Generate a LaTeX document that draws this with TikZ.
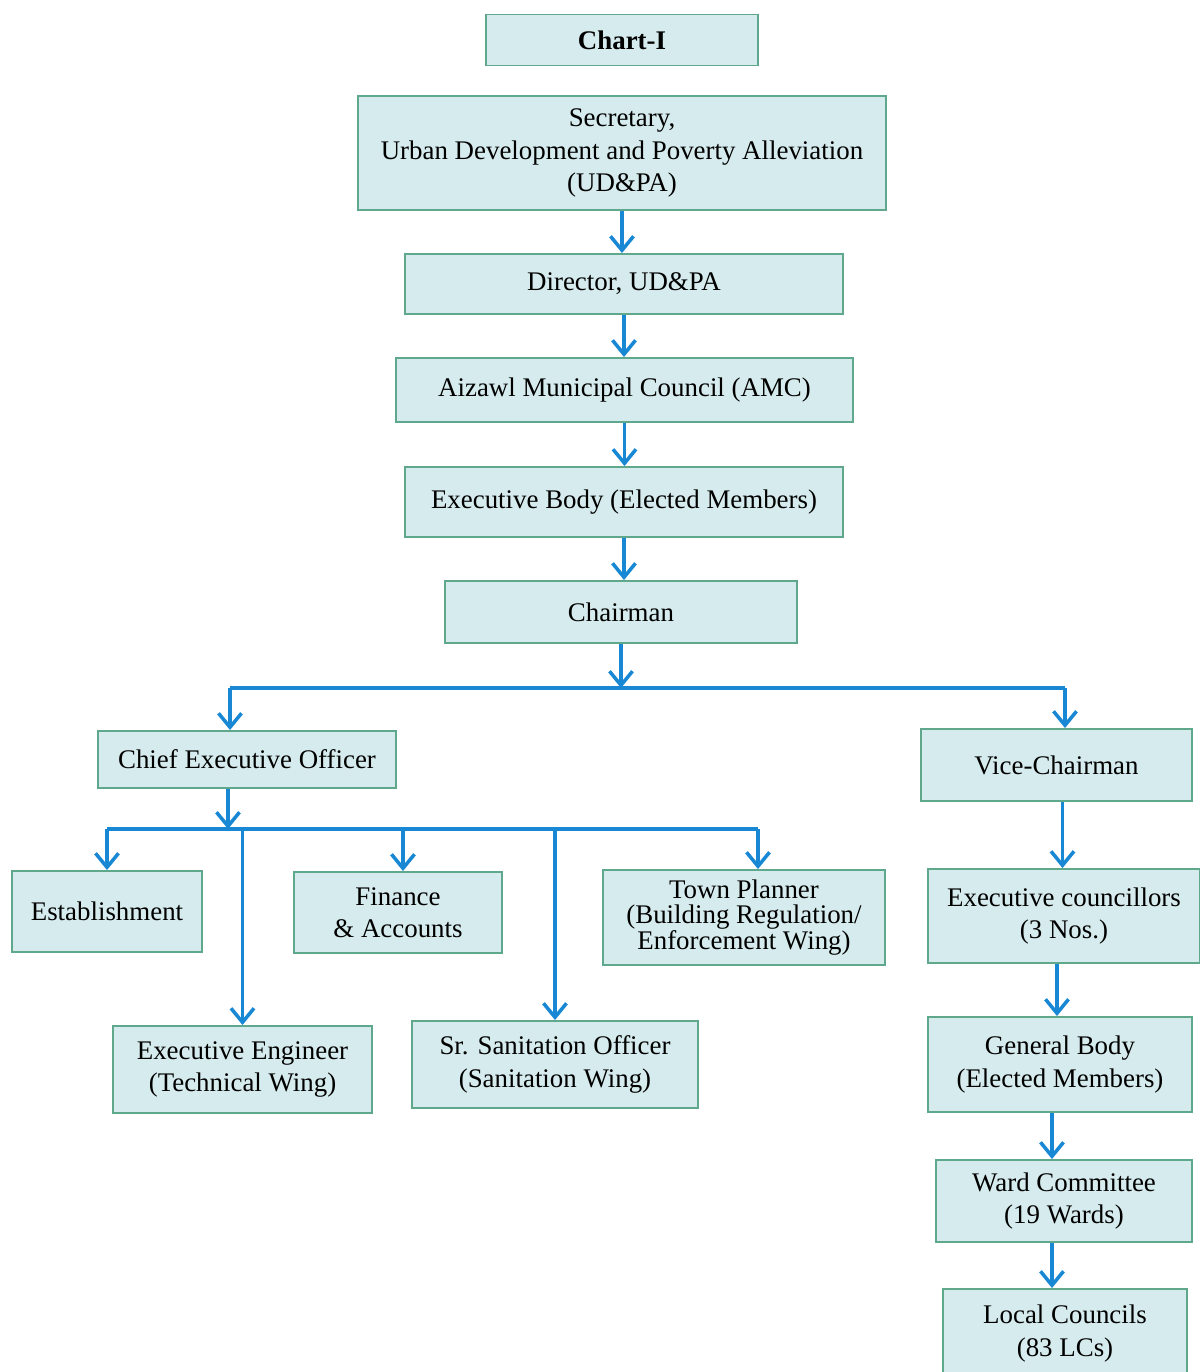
\documentclass[tikz,border=0pt]{standalone}
\usepackage{fontspec}
\setmainfont{Liberation Serif}
\usetikzlibrary{positioning,arrows.meta}
\definecolor{boxfill}{RGB}{214,235,237}
\definecolor{boxline}{RGB}{96,168,140}
\definecolor{flowblue}{RGB}{24,136,212}
\tikzset{
  orgbox/.style={draw=boxline, fill=boxfill, line width=1.1pt, align=center,
    inner sep=2pt, font=\fontsize{15.3}{18.5}\selectfont},
  flow/.style={draw=flowblue, line width=2pt,
    -{Straight Barb[length=0.28cm,width=0.46cm,line width=2pt]}},
  bus/.style={draw=flowblue, line width=2pt},
}
\begin{document}
\begin{tikzpicture}
\useasboundingbox (0,0) rectangle (24,-27.44);
% top chain
\node[orgbox, minimum width=5.44cm, minimum height=1.02cm] (chart) at (12.44,-0.80) {\textbf{Chart-I}};
\node[orgbox, minimum width=10.56cm, minimum height=2.28cm] (secy) at (12.44,-3.06)
  {Secretary,\\Urban Development and Poverty Alleviation\\(UD\&PA)};
\node[orgbox, minimum width=8.76cm, minimum height=1.20cm] (dir) at (12.48,-5.68) {Director, UD\&PA};
\node[orgbox, minimum width=9.14cm, minimum height=1.28cm] (amc) at (12.49,-7.80) {Aizawl Municipal Council (AMC)};
\node[orgbox, minimum width=8.76cm, minimum height=1.40cm] (exec) at (12.48,-10.04) {Executive Body (Elected Members)};
\node[orgbox, minimum width=7.04cm, minimum height=1.24cm] (chair) at (12.42,-12.24) {Chairman};
% second level
\node[orgbox, minimum width=5.96cm, minimum height=1.14cm] (ceo) at (4.94,-15.19) {Chief Executive Officer};
\node[orgbox, minimum width=5.42cm, minimum height=1.44cm] (vc) at (21.13,-15.30) {Vice-Chairman};
% CEO wings
\node[orgbox, minimum width=3.80cm, minimum height=1.62cm] (est) at (2.14,-18.23) {Establishment};
\node[orgbox, minimum width=4.16cm, minimum height=1.62cm] (fin) at (7.96,-18.25) {Finance\\\& Accounts};
\node[orgbox, minimum width=5.64cm, minimum height=1.90cm, font=\fontsize{15.3}{14.5}\selectfont] (town) at (14.88,-18.35)
  {Town Planner\\(Building Regulation/\\Enforcement Wing)};
\node[orgbox, minimum width=5.18cm, minimum height=1.74cm] (ee) at (4.85,-21.39) {Executive Engineer\\(Technical Wing)};
\node[orgbox, minimum width=5.72cm, minimum height=1.74cm] (san) at (11.10,-21.29) {Sr. Sanitation Officer\\(Sanitation Wing)};
% vice-chairman chain
\node[orgbox, minimum width=5.44cm, minimum height=1.88cm] (ec) at (21.28,-18.32) {Executive councillors\\(3 Nos.)};
\node[orgbox, minimum width=5.28cm, minimum height=1.90cm] (gb) at (21.20,-21.29) {General Body\\(Elected Members)};
\node[orgbox, minimum width=5.12cm, minimum height=1.64cm] (wc) at (21.28,-24.02) {Ward Committee\\(19 Wards)};
\node[orgbox, minimum width=4.88cm, minimum height=1.78cm] (lc) at (21.30,-26.67) {Local Councils\\(83 LCs)};
% junctions
\coordinate (j1) at (12.42,-13.76);
\coordinate (b1) at (4.60,-13.76);
\coordinate (b2) at (21.30,-13.76);
\coordinate (j2) at (4.56,-16.58);
\coordinate (k1) at (2.14,-16.58);
\coordinate (k2) at (15.16,-16.58);
% connectors
\draw[flow] (secy.south) -- (secy.south |- dir.north);
\draw[flow] (dir.south) -- (dir.south |- amc.north);
\draw[flow] (amc.south) -- (amc.south |- exec.north);
\draw[flow] (exec.south) -- (exec.south |- chair.north);
\draw[flow] (chair.south) -- (j1);
\draw[bus] (b1) -- (b2);
\draw[flow] (b1) -- (b1 |- ceo.north);
\draw[flow] (b2) -- (b2 |- vc.north);
\draw[flow] (ceo.south -| j2) -- (j2);
\draw[bus] (k1) -- (k2);
\draw[flow] (k1) -- (est.north);
\draw[flow] (ee.north |- j2) -- (ee.north);
\draw[flow] ([xshift=0.1cm]fin.north |- j2) -- ([xshift=0.1cm]fin.north);
\draw[flow] (san.north |- j2) -- (san.north);
\draw[flow] (k2) -- (k2 |- town.north);
\draw[flow] ([xshift=0.12cm]vc.south) -- ([xshift=0.12cm]vc.south |- ec.north);
\draw[flow] ([xshift=-0.06cm]gb.north |- ec.south) -- ([xshift=-0.06cm]gb.north);
\draw[flow] ([xshift=-0.16cm]gb.south) -- ([xshift=-0.16cm]gb.south |- wc.north);
\draw[flow] ([xshift=-0.24cm]wc.south) -- ([xshift=-0.24cm]wc.south |- lc.north);
\end{tikzpicture}
\end{document}
